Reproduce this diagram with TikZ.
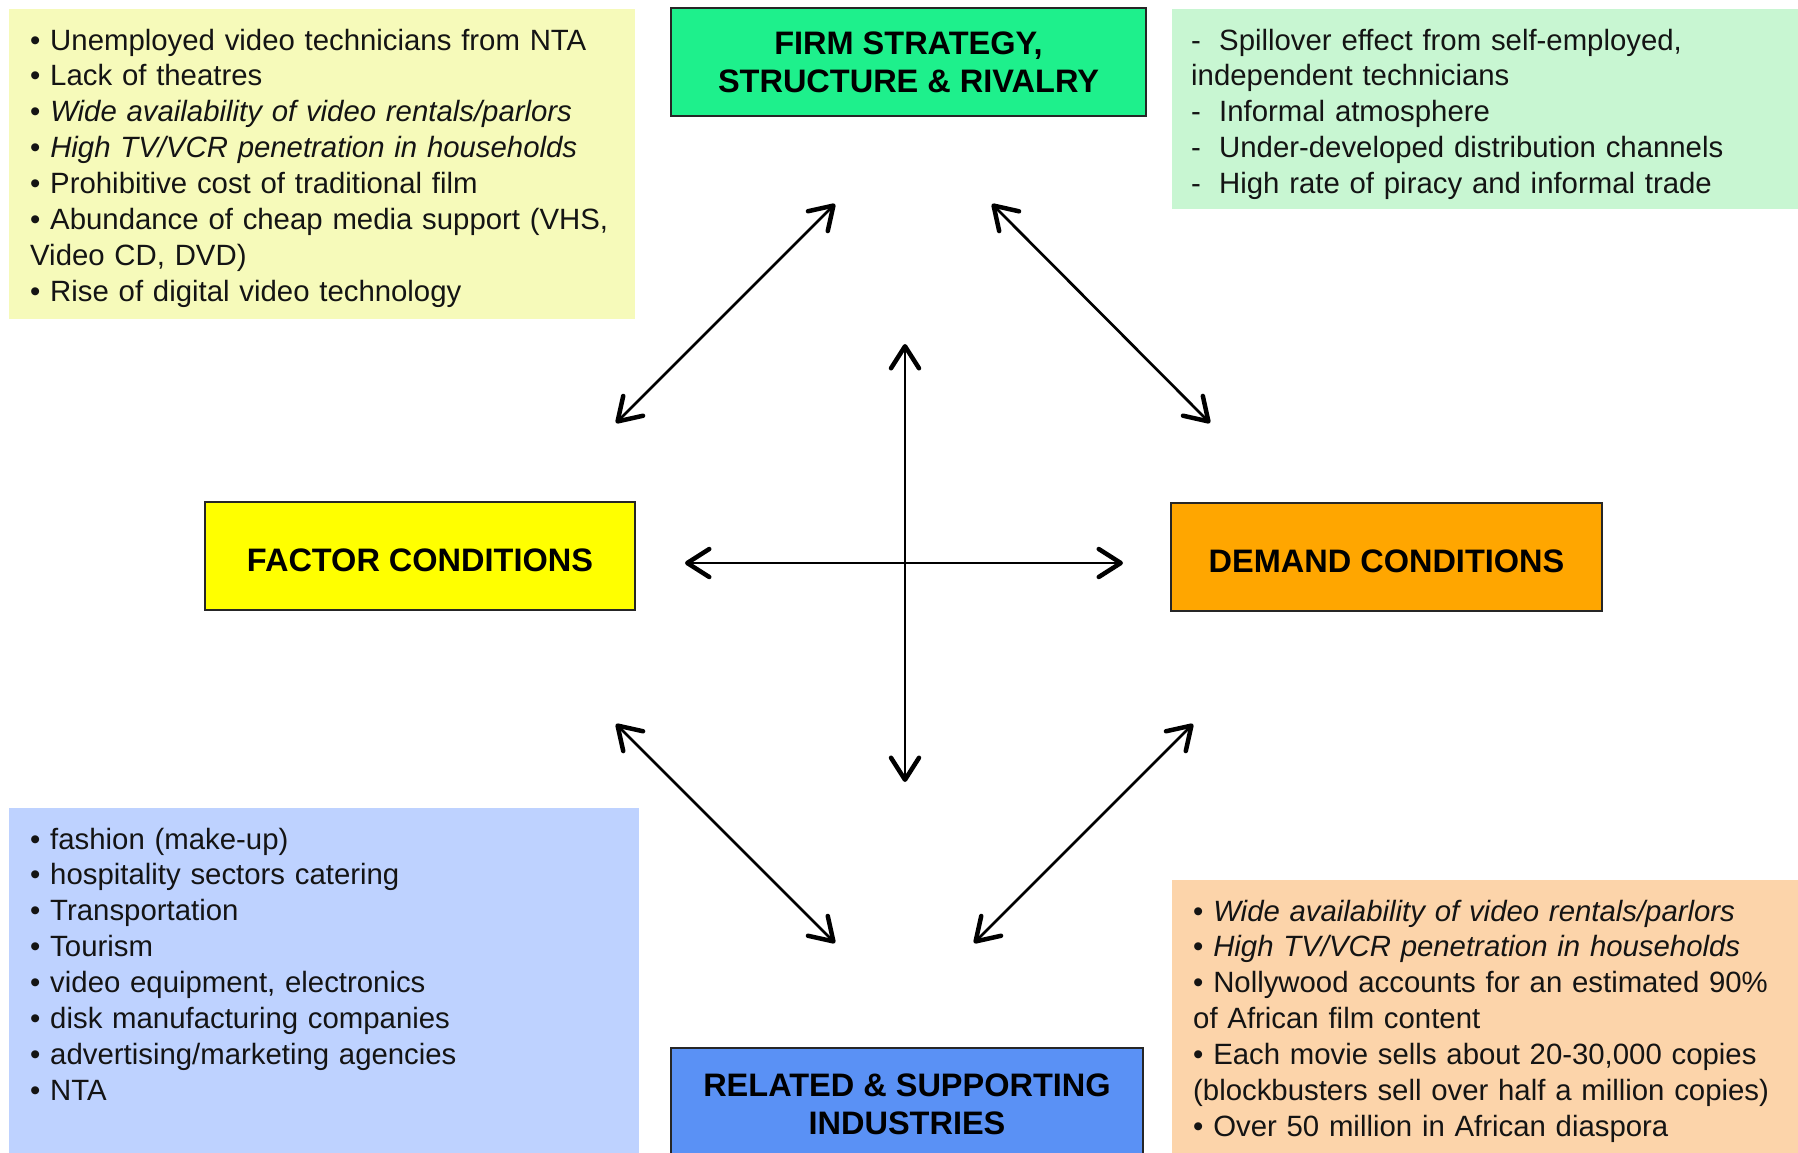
\documentclass[tikz,border=0pt]{standalone}
\usepackage{fontspec}
\setmainfont{Liberation Sans}
\usetikzlibrary{arrows.meta}

\definecolor{factorbg}{RGB}{246,250,186}
\definecolor{firmfill}{RGB}{30,240,140}
\definecolor{firmbg}{RGB}{200,246,210}
\definecolor{factorfill}{RGB}{255,255,0}
\definecolor{demandfill}{RGB}{255,166,0}
\definecolor{relatedbg}{RGB}{190,210,255}
\definecolor{relatedfill}{RGB}{90,145,245}
\definecolor{demandbg}{RGB}{252,212,170}
\definecolor{ink}{RGB}{20,20,20}

\newcommand\listfont{\fontsize{29.35}{35.9}\selectfont}
\newcommand\headfont{\fontsize{32.5}{38}\selectfont\bfseries}
\newcommand\dashitem{\makebox[28pt][l]{-}}

\tikzset{
  panel/.style={draw=none, inner sep=0pt, anchor=north west},
  listtext/.style={anchor=base west, inner sep=0pt, text width=620pt, align=left,
                   font=\listfont, text=ink},
  headbox/.style={draw=black!85, line width=2pt, inner sep=0pt, align=center,
                  font=\headfont, text=black},
  headtext/.style={inner sep=0pt, align=center, font=\headfont, text=black},
  capline/.style={headtext, text height=23.3pt, text depth=0pt},
  link/.style={line width=2.7pt, draw=black,
               {Straight Barb[length=22pt,width=28pt,line width=4.5pt,round]}-{Straight Barb[length=22pt,width=28pt,line width=4.5pt,round]}},
}

\begin{document}
\begin{tikzpicture}[x=1pt,y=-1pt]
  \clip (0,0) rectangle (1798,1152);
  \fill[white] (0,0) rectangle (1798,1152);

  % background panels with the lists
  \node[panel, fill=factorbg, minimum width=626, minimum height=310] (factorpanel) at (9,9) {};
  \node[panel, fill=firmbg, minimum width=640, minimum height=200] (firmpanel) at (1172,9) {};
  \node[panel, fill=relatedbg, minimum width=630, minimum height=360] (relatedpanel) at (9,808) {};
  \node[panel, fill=demandbg, minimum width=640, minimum height=290] (demandpanel) at (1172,880) {};

  \node[listtext] (factorlist) at (30,50) {%
    • Unemployed video technicians from NTA\\
    • Lack of theatres\\
    • \textit{Wide availability of video rentals/parlors}\\
    • \textit{High TV/VCR penetration in households}\\
    • Prohibitive cost of traditional film\\
    • Abundance of cheap media support (VHS,\\
    Video CD, DVD)\\
    • Rise of digital video technology};

  \node[listtext] (firmlist) at (1191,50) {%
    \dashitem Spillover effect from self-employed,\\
    independent technicians\\
    \dashitem Informal atmosphere\\
    \dashitem Under-developed distribution channels\\
    \dashitem High rate of piracy and informal trade};

  \node[listtext] (relatedlist) at (30,849) {%
    • fashion (make-up)\\
    • hospitality sectors catering\\
    • Transportation\\
    • Tourism\\
    • video equipment, electronics\\
    • disk manufacturing companies\\
    • advertising/marketing agencies\\
    • NTA};

  \node[listtext] (demandlist) at (1193,921) {%
    • \textit{Wide availability of video rentals/parlors}\\
    • \textit{High TV/VCR penetration in households}\\
    • Nollywood accounts for an estimated 90\%\\
    of African film content\\
    • Each movie sells about 20-30,000 copies\\
    (blockbusters sell over half a million copies)\\
    • Over 50 million in African diaspora};

  % the four determinants
  \node[headbox, fill=firmfill, minimum width=475, minimum height=108] (firm) at (908.5,62)
    {FIRM STRATEGY,\\STRUCTURE \& RIVALRY};
  \node[headbox, fill=factorfill, minimum width=430, minimum height=108] (factor) at (420,556) {};
  \node[capline] (factortext) at (420,560) {FACTOR CONDITIONS};
  \node[headbox, fill=demandfill, minimum width=431, minimum height=108] (demand) at (1386.5,557) {};
  \node[capline] (demandtext) at (1386.5,561) {DEMAND CONDITIONS};
  \node[headbox, fill=relatedfill, minimum width=472, minimum height=140, anchor=north] (related) at (907,1047) {};
  \node[headtext] (relatedtext) at (907,1104) {RELATED \& SUPPORTING\\INDUSTRIES};

  % arrow end points
  \coordinate (nwa) at (616,423);  \coordinate (nwb) at (835,204);
  \coordinate (nea) at (992,204);  \coordinate (neb) at (1210,423);
  \coordinate (swa) at (616,724);  \coordinate (swb) at (835,943);
  \coordinate (sea) at (1193,724); \coordinate (seb) at (974,943);
  \coordinate (top) at (905,344);  \coordinate (bottom) at (905,782);
  \coordinate (left) at (685,563); \coordinate (right) at (1123,563);

  \draw[link] (nwa) -- (nwb);
  \draw[link] (nea) -- (neb);
  \draw[link] (swa) -- (swb);
  \draw[link] (sea) -- (seb);
  \draw[link] (top) -- (bottom);
  \draw[link] (left) -- (right);
\end{tikzpicture}
\end{document}
